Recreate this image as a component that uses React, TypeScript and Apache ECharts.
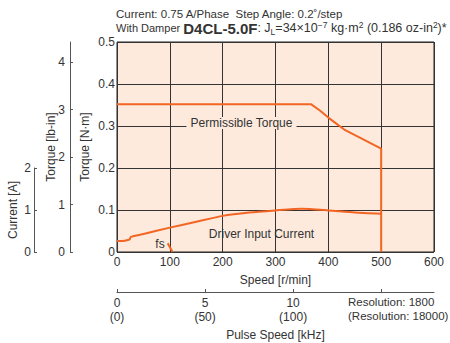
import React, { useEffect, useRef } from "react";
import * as echarts from "echarts";

const speedTicks = [0, 100, 200, 300, 400, 500, 600];
const torqueTicks = [0, 0.1, 0.2, 0.3, 0.4, 0.5];
const lbinTicks = [0, 1, 2, 3, 4];
const currentTicks = [0, 1, 2];
const pulseTicks = [0, 5, 10, 15];
const pulseLabels = ["0\n(0)", "5\n(50)", "10\n(100)"];

const speedTorque = [0, 367, 384, 400, 432, 500, 500];
const torqueNm = [0.352, 0.352, 0.337, 0.32, 0.29, 0.246, 0];

const speedCurrent = [0, 15, 24, 26, 50, 100, 150, 200, 250, 300, 350, 400, 450, 500];
const currentA = [0.26, 0.27, 0.3, 0.36, 0.43, 0.58, 0.72, 0.86, 0.94, 0.99, 1.03, 0.99, 0.94, 0.91];

const speedFs = [96, 105];
const currentFs = [0.21, 0];

const NM_TO_LBIN = 8.8507;
const PULSE_MAX = 18;

const FONT = "'Liberation Sans', Arial, sans-serif";
const TXT = "#333";
const ORANGE = "#F26522";
const PEACH = "#FDEADD";

export default function App() {
  const ref = useRef<HTMLDivElement>(null);
  useEffect(() => {
    if (!ref.current) return;
    const chart = echarts.init(ref.current, undefined, { renderer: "svg" });
    const L = 117, T = 42, W = 317, H = 210;
    const nameStyle = { fontSize: 12, color: TXT, fontFamily: FONT };
    const option: any = {
      animation: false,
      textStyle: { fontFamily: FONT, color: TXT },
      grid: [
        { left: L, top: T, width: W, height: H, show: true, backgroundColor: PEACH, borderColor: "#222", borderWidth: 1, outerBoundsMode: "none", containLabel: false },
        { left: L, top: T + H - 84, width: W, height: 84, show: false, outerBoundsMode: "none", containLabel: false },
      ],
      xAxis: [
        {
          gridIndex: 0, type: "value", min: speedTicks[0], max: speedTicks[speedTicks.length - 1], interval: 100,
          axisLine: { show: false, onZero: false }, axisTick: { show: false },
          splitLine: { show: true, lineStyle: { color: "#333", width: 1 } },
          axisLabel: { fontSize: 12, color: TXT, margin: 4, fontFamily: FONT },
          name: "Speed [r/min]", nameLocation: "middle", nameGap: 22, nameMoveOverlap: false,
          nameTextStyle: nameStyle,
        },
        {
          gridIndex: 0, type: "value", position: "bottom", offset: 40, min: 0, max: PULSE_MAX,
          axisLine: { show: true, onZero: false, lineStyle: { color: "#555", width: 1 } },
          axisTick: { show: true, inside: true, length: 3, customValues: pulseTicks, lineStyle: { color: "#555" } },
          splitLine: { show: false },
          axisLabel: {
            fontSize: 12, color: TXT, margin: 4, lineHeight: 14, fontFamily: FONT,
            customValues: pulseTicks.slice(0, 3),
            formatter: (v: number) => pulseLabels[pulseTicks.indexOf(v)] ?? "",
          },
          name: "Pulse Speed [kHz]", nameLocation: "middle", nameGap: 37, nameMoveOverlap: false,
          nameTextStyle: nameStyle,
        },
        {
          gridIndex: 1, type: "value", min: 0, max: 600, show: false,
        },
      ],
      yAxis: [
        {
          gridIndex: 0, type: "value", min: torqueTicks[0], max: torqueTicks[torqueTicks.length - 1], interval: 0.1,
          axisLine: { show: false, onZero: false }, axisTick: { show: false },
          splitLine: { show: true, lineStyle: { color: "#333", width: 1 } },
          axisLabel: { fontSize: 12, color: TXT, margin: 2, fontFamily: FONT, formatter: (v: number) => (v === 0 ? "0" : v.toFixed(1)) },
          name: "Torque [N·m]", nameLocation: "middle", nameRotate: 90, nameGap: 26, nameMoveOverlap: false,
          nameTextStyle: nameStyle,
        },
        {
          gridIndex: 0, type: "value", position: "left", offset: 47, min: 0, max: 0.5 * NM_TO_LBIN,
          axisLine: { show: true, onZero: false, lineStyle: { color: "#555", width: 1 } },
          axisTick: { show: true, inside: true, length: 3, customValues: lbinTicks, lineStyle: { color: "#555" } },
          splitLine: { show: false },
          axisLabel: { fontSize: 12, color: TXT, margin: 5, fontFamily: FONT, customValues: lbinTicks },
          name: "Torque [lb-in]", nameLocation: "middle", nameRotate: 90, nameGap: 13, nameMoveOverlap: false,
          nameTextStyle: nameStyle,
        },
        {
          gridIndex: 1, type: "value", position: "left", offset: 83, min: 0, max: 2, interval: 1,
          axisLine: { show: true, onZero: false, lineStyle: { color: "#555", width: 1 } },
          axisTick: { show: true, inside: true, length: 3, lineStyle: { color: "#555" } },
          splitLine: { show: false },
          axisLabel: { fontSize: 12, color: TXT, margin: 3, fontFamily: FONT, customValues: currentTicks },
          name: "Current [A]", nameLocation: "middle", nameRotate: 90, nameGap: 15, nameMoveOverlap: false,
          nameTextStyle: nameStyle,
        },
      ],
      series: [
        {
          type: "line", name: "Permissible Torque", xAxisIndex: 0, yAxisIndex: 0, symbol: "none",
          lineStyle: { color: ORANGE, width: 2 }, clip: false,
          data: speedTorque.map((s, i) => [s, torqueNm[i]]),
        },
        {
          type: "line", name: "Driver Input Current", xAxisIndex: 2, yAxisIndex: 2, symbol: "none",
          lineStyle: { color: ORANGE, width: 2 }, clip: false, smooth: 0.2,
          data: speedCurrent.map((s, i) => [s, currentA[i]]),
        },
        {
          type: "line", name: "fs", xAxisIndex: 2, yAxisIndex: 2, symbol: "none",
          lineStyle: { color: ORANGE, width: 2 }, clip: false,
          data: speedFs.map((s, i) => [s, currentFs[i]]),
        },
      ],
      graphic: [
        {
          type: "text", left: 116, top: 8, z: 100,
          style: { text: "Current: 0.75 A/Phase  Step Angle: 0.2˚/step", fontSize: 11.5, fill: TXT, fontFamily: FONT },
        },
        {
          type: "text", left: 116, top: 20, z: 100,
          style: {
            text: "{w|With Damper }{b|D4CL-5.0F}{n|: J}{sub|L}{n|=34×10}{sup|−7}{n| kg·m}{sup|2}{n| (0.186 oz-in}{sup|2}{n|)*}",
            fontSize: 11.5, fill: TXT, fontFamily: FONT, lineHeight: 16,
            rich: {
              w: { fontSize: 11, fill: TXT, fontFamily: FONT, lineHeight: 16 },
              n: { fontSize: 12.5, fill: TXT, fontFamily: FONT, lineHeight: 16 },
              b: { fontSize: 15, fontWeight: "bold", fill: TXT, fontFamily: FONT, lineHeight: 16 },
              sub: { fontSize: 8.5, fill: TXT, fontFamily: FONT, verticalAlign: "bottom", lineHeight: 16 },
              sup: { fontSize: 8.5, fill: TXT, fontFamily: FONT, verticalAlign: "top", lineHeight: 16 },
            },
          },
        },
        {
          type: "text", x: 241.5, y: 123, z: 100,
          style: {
            text: "Permissible Torque", fontSize: 12, fill: TXT, fontFamily: FONT,
            align: "center", verticalAlign: "middle", backgroundColor: PEACH, padding: [0, 4], lineHeight: 12,
          },
        },
        {
          type: "text", x: 261.5, y: 233.5, z: 100,
          style: { text: "Driver Input Current", fontSize: 12, fill: TXT, fontFamily: FONT, align: "center", verticalAlign: "middle" },
        },
        {
          type: "text", x: 160, y: 243.5, z: 100,
          style: { text: "fs", fontSize: 12, fill: TXT, fontFamily: FONT, align: "center", verticalAlign: "middle" },
        },
        {
          type: "text", left: 348, top: 295, z: 100,
          style: { text: "Resolution: 1800\n(Resolution: 18000)", fontSize: 11.5, fill: TXT, fontFamily: FONT, lineHeight: 14 },
        },
      ],
    };
    chart.setOption(option);
    return () => chart.dispose();
  }, []);
  return <div ref={ref} style={{ position: "fixed", left: 0, top: 0, width: 450, height: 343, background: "#fff" }} />;
}
